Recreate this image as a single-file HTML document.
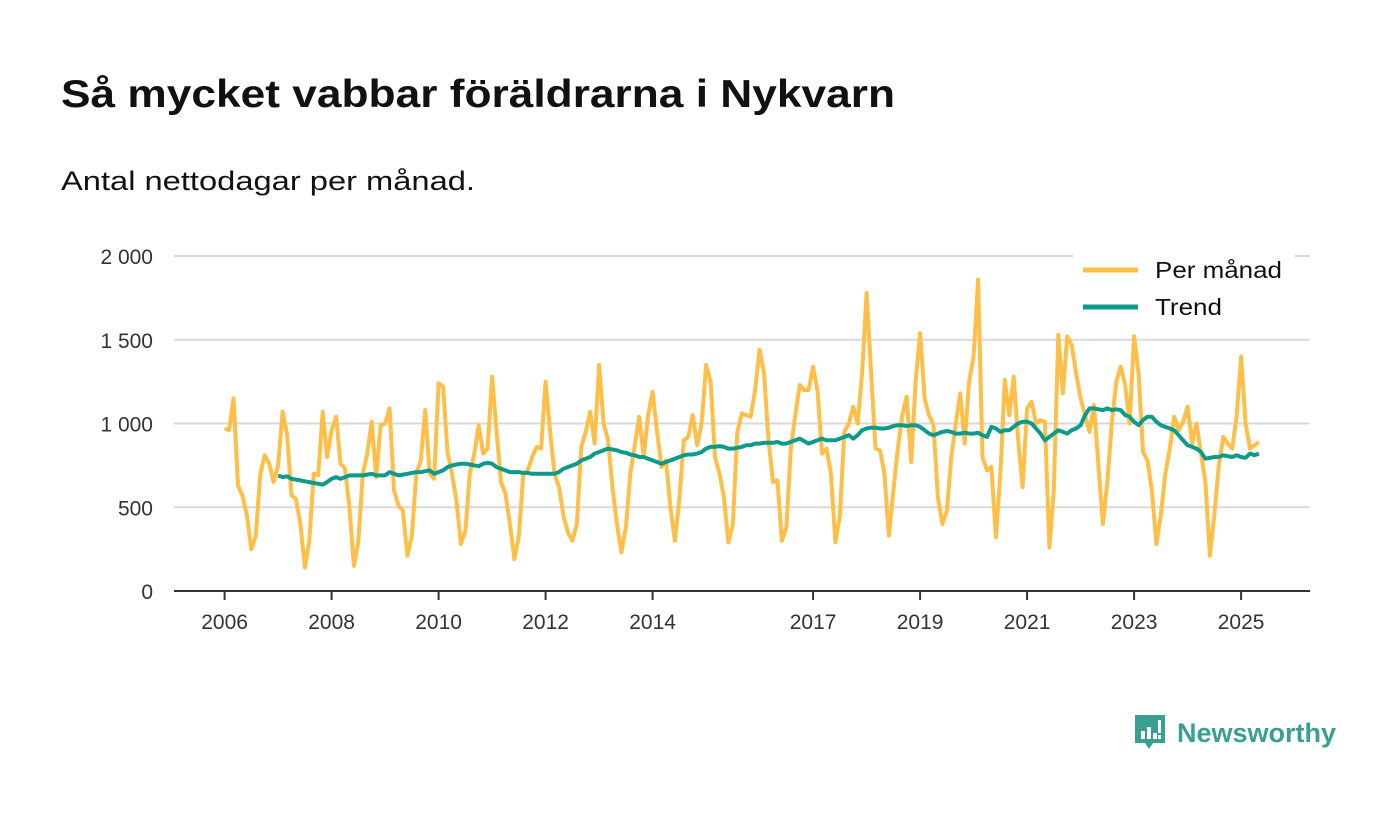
<!DOCTYPE html>
<html><head><meta charset="utf-8">
<style>
body{margin:0;background:#fff;width:1400px;height:813px;overflow:hidden;font-family:"Liberation Sans","DejaVu Sans",sans-serif}
svg{position:absolute;left:0;top:0}
#logo{position:absolute;left:1133px;top:713px;display:flex;align-items:center}
</style></head><body>
<svg width="1400" height="220" style="position:absolute;left:0;top:0">
<text x="61" y="107" font-size="39" font-weight="bold" fill="#111" textLength="834" lengthAdjust="spacingAndGlyphs">Så mycket vabbar föräldrarna i Nykvarn</text>
<text x="61" y="190" font-size="27" fill="#111" textLength="414" lengthAdjust="spacingAndGlyphs">Antal nettodagar per månad.</text>
</svg>
<svg id="chart" width="1400" height="813"></svg>
<div id="logo">
<svg width="34" height="40" viewBox="0 0 34 40" style="position:static"><path d="M2 2h30v28H20l-4 6-4-6H2z" fill="#3a9f93"/><rect x="8" y="18" width="4" height="8" fill="#fff"/><rect x="14" y="14" width="4" height="12" fill="#fff"/><rect x="20" y="20" width="4" height="6" fill="#fff"/><rect x="25" y="7" width="3" height="13" fill="#fff"/><rect x="25" y="22" width="3" height="4" fill="#fff"/></svg>
<span style="font-size:27px;font-weight:bold;color:#3a9f93;margin-left:10px">Newsworthy</span>
</div>
<script>
const yTicks=[0,500,1000,1500,2000];
const yTickLabels=["0","500","1 000","1 500","2 000"];
const xTicks=[2006,2008,2010,2012,2014,2017,2019,2021,2023,2025];
const monthly=[
970,960,1150,630,570,450,250,330,700,810,760,650,
750,1070,940,570,550,400,140,300,700,690,1070,800,
960,1040,760,730,500,150,300,700,820,1010,680,990,
1000,1090,600,510,480,210,330,700,780,1080,700,670,
1240,1220,830,700,540,280,360,700,820,990,820,850,
1280,950,650,580,400,190,330,700,720,800,860,850,
1250,950,700,620,450,350,300,400,860,950,1070,880,
1350,1000,900,620,400,230,380,700,870,1040,800,1050,
1190,950,740,780,500,300,550,900,920,1050,870,1000,
1350,1250,800,700,560,290,400,950,1060,1050,1040,1200,
1440,1300,900,650,660,300,380,850,1050,1230,1200,1200,
1340,1190,820,850,700,290,450,950,1000,1100,1000,1300,
1780,1300,850,840,700,330,600,850,1050,1160,770,1250,
1540,1150,1050,990,560,400,480,800,1000,1180,880,1250,
1400,1860,800,720,740,320,700,1260,1050,1280,900,620,
1090,1130,1000,1020,1010,260,600,1530,1180,1520,1470,1300,
1150,1050,950,1110,750,400,650,1000,1250,1340,1230,1000,
1520,1300,830,780,600,280,450,700,850,1040,960,1010,
1100,880,1000,820,650,210,450,750,920,880,850,1040,
1400,1000,850,870,890];
const trend=[
690,680,685,670,665,660,655,650,645,640,635,650,
670,680,670,680,690,690,690,690,695,700,690,690,
690,710,700,690,695,700,705,710,710,715,720,700,
710,720,740,750,755,760,760,755,750,745,760,765,
760,740,730,720,710,710,710,705,705,700,700,700,
700,700,700,710,730,740,750,760,780,790,800,820,
830,840,850,845,840,830,825,815,810,800,800,790,
780,770,760,770,780,790,800,810,815,815,820,830,
850,860,860,865,860,850,850,855,860,870,870,880,
880,885,885,885,890,880,880,890,900,910,895,880,
890,900,910,900,900,900,910,920,930,910,930,960,
970,975,975,970,970,975,985,990,990,985,990,990,
980,960,940,930,940,950,955,950,940,940,945,940,
940,945,930,920,980,970,950,960,960,980,1000,1010,
1010,1000,970,940,900,920,940,960,950,940,960,970,
990,1050,1090,1090,1085,1080,1090,1080,1085,1080,1050,1040,
1010,990,1020,1040,1040,1010,990,980,970,960,930,900,
870,860,850,830,790,795,800,800,810,805,800,810,
800,795,820,810,820];
const NS='http://www.w3.org/2000/svg';
const svg=document.getElementById('chart');
const x=t=>224.6+(t-2006)*53.5;
const y=v=>591-v*335/2000;
function mk(tag,attrs){const e=document.createElementNS(NS,tag);for(const k in attrs)e.setAttribute(k,attrs[k]);svg.appendChild(e);return e;}
yTicks.forEach((t,i)=>{
  if(t>0){const g=mk('line',{x1:174,x2:1310,y1:y(t),y2:y(t),stroke:'#d9d9d9','stroke-width':2});
  
  }
  const l=mk('text',{x:153,y:y(t)+8,'text-anchor':'end','font-size':21,fill:'#333'});
  l.textContent=yTickLabels[i];
  
  
});
const ax=mk('line',{x1:174,x2:1310,y1:591,y2:591,stroke:'#333','stroke-width':2});


xTicks.forEach(t=>{
  const tk=mk('line',{x1:x(t),x2:x(t),y1:591,y2:600,stroke:'#333','stroke-width':2});
  
  
  const l=mk('text',{x:x(t),y:629,'text-anchor':'middle','font-size':21,fill:'#333'});
  l.textContent=t;
  
  
});
const pm=monthly.map((v,i)=>x(2006+i/12).toFixed(1)+','+y(v).toFixed(1)).join(' ');
const l1=mk('polyline',{points:pm,fill:'none',stroke:'#fdbf47','stroke-width':4,'stroke-linejoin':'round'});


const pt=trend.map((v,i)=>x(2007+i/12).toFixed(1)+','+y(v).toFixed(1)).join(' ');
const l2=mk('polyline',{points:pt,fill:'none',stroke:'#0e9a8b','stroke-width':4,'stroke-linejoin':'round'});


const bg=mk('rect',{x:1073,y:250,width:222,height:76,fill:'#fff'});


[['Per månad','#fdbf47',270,127],['Trend','#0e9a8b',307,67]].forEach(([n,c,yy,w])=>{
  const s=mk('line',{x1:1083,x2:1138,y1:yy,y2:yy,stroke:c,'stroke-width':5});
  
  
  const t=mk('text',{x:1155,y:yy+8,'font-size':23,fill:'#111',textLength:w,lengthAdjust:'spacingAndGlyphs'});
  t.textContent=n;
  
  
});
</script>
</body></html>
